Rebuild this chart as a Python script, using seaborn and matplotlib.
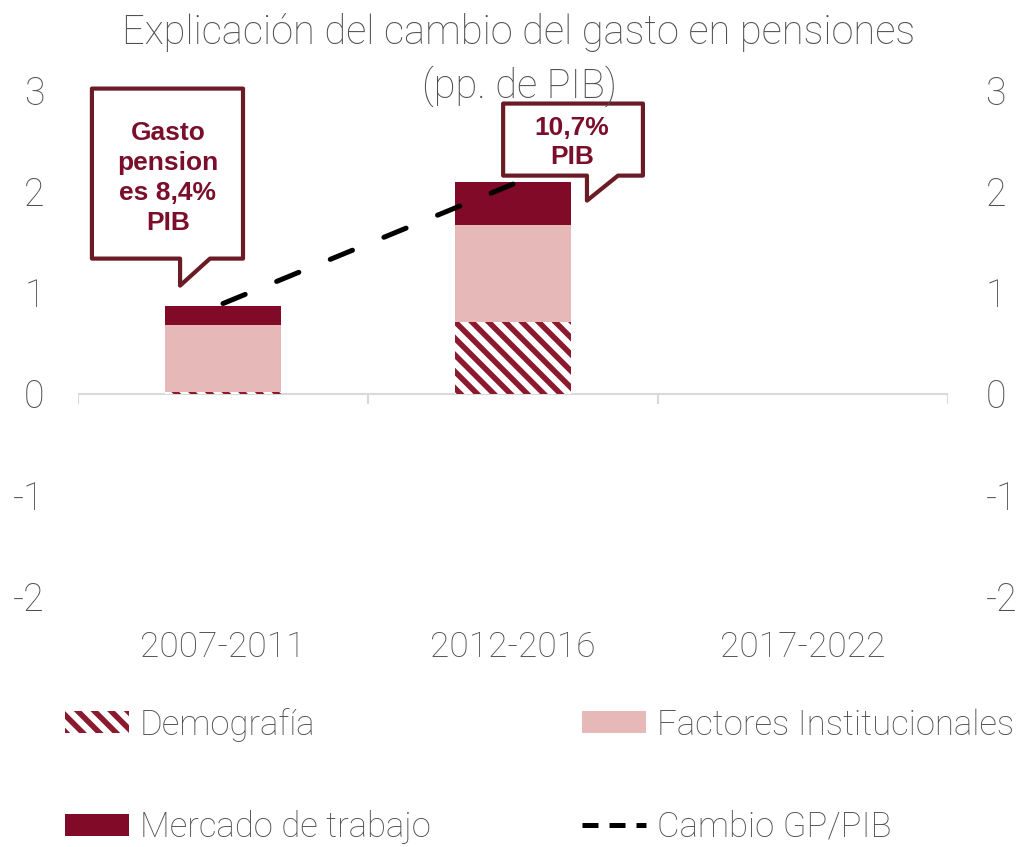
import numpy as np
import pandas as pd
import matplotlib.pyplot as plt
from matplotlib.patches import Patch, Polygon
from matplotlib.lines import Line2D
import seaborn as sns

# datos (pp. de PIB)
periodos = ['2007-2011', '2012-2016', '2017-2022']
demografia = [0.02, 0.71, 0.0]
institucionales = [0.66, 0.96, 0.0]
mercado = [0.19, 0.42, 0.0]
cambio = [0.89, 2.07]
yticks = [-2, -1, 0, 1, 2, 3]

c_demo = '#8B1A2E'
c_inst = '#E6B8B7'
c_merc = '#800A27'
c_borde = '#6B1B24'
c_texto_box = '#7B0F2B'
gris = '#505050'

sns.set_style('white')
plt.rcParams['font.family'] = ['Roboto', 'DejaVu Sans']
plt.rcParams['font.weight'] = 'light'
plt.rcParams['hatch.linewidth'] = 4
plt.rcParams['axes.unicode_minus'] = False

df = pd.DataFrame({'periodo': periodos, 'demo': demografia,
                   'inst': institucionales, 'merc': mercado})
df['base_merc'] = df['demo'] + df['inst']

fig = plt.figure(figsize=(10.23, 8.47), dpi=100)
ax = fig.add_axes([78 / 1023, 1 - 596 / 847, 870 / 1023, 506 / 847])

sns.barplot(data=df, x='periodo', y='demo', order=periodos, color='white',
            hatch='\\\\', edgecolor=c_demo, linewidth=0, width=0.4,
            saturation=1, ax=ax)
sns.barplot(data=df, x='periodo', y='inst', order=periodos, color=c_inst,
            bottom=df['demo'], linewidth=0, width=0.4, saturation=1, ax=ax)
sns.barplot(data=df, x='periodo', y='merc', order=periodos, color=c_merc,
            bottom=df['base_merc'], linewidth=0, width=0.4, saturation=1, ax=ax)

sns.lineplot(x=np.arange(len(cambio)), y=cambio, color='black', lw=3.6,
             linestyle=(0, (4.8, 6.8)), dash_capstyle='round', ax=ax, zorder=4)

# eje en cero con marcas entre categorias
ax.axhline(0, color='#D9D9D9', lw=1.5, zorder=0)
bordes = np.arange(len(periodos) + 1) - 0.5
ax.vlines(bordes, -0.1, 0, color='#D9D9D9', lw=1.5, zorder=0)

ax.set_xlim(-0.5, len(periodos) - 0.5)
ax.set_ylim(-2, 3)
ax.set_yticks(yticks)
ax.set_xlabel('')
ax.set_ylabel('')
ax.tick_params(axis='y', length=0, labelsize=27, labelcolor=gris, pad=24)
ax.tick_params(axis='x', length=0, labelsize=25.5, labelcolor=gris, pad=25)
sns.despine(ax=ax, left=True, bottom=True)

ax2 = ax.twinx()
ax2.set_ylim(-2, 3)
ax2.set_yticks(yticks)
ax2.tick_params(axis='y', length=0, labelsize=27, labelcolor=gris, pad=27)
sns.despine(ax=ax2, left=True, bottom=True, right=True)

# titulo
fig.text(519 / 1023, 1 - 33 / 847, 'Explicación del cambio del gasto en pensiones',
         ha='center', va='center', fontsize=28.7, color=gris)
fig.text(519 / 1023, 1 - 86 / 847, '(pp. de PIB)',
         ha='center', va='center', fontsize=28.7, color=gris)


# globos de texto
def globo(izq, der, arriba, abajo, cola0, cola1, punta, texto, tx, ty):
    pts = [(izq, arriba), (der, arriba), (der, abajo), (cola1, abajo),
           (cola0, punta), (cola0, abajo), (izq, abajo)]
    p = Polygon(pts, closed=True, facecolor='white', edgecolor=c_borde,
                lw=3, joinstyle='round', clip_on=False, zorder=6)
    ax.add_patch(p)
    ax.text(tx, ty, texto, ha='center', va='center', fontsize=19,
            fontweight='bold', family='Liberation Sans', color=c_texto_box,
            linespacing=1.3, zorder=7, clip_on=False)


globo(-0.452, 0.069, 3.014, 1.334, -0.148, -0.045, 1.067,
      'Gasto\npension\nes 8,4%\nPIB', -0.19, 2.13)
globo(0.966, 1.448, 2.866, 2.154, 1.255, 1.362, 1.907,
      '10,7%\nPIB', 1.203, 2.48)

# leyenda en dos columnas
h_demo = Patch(facecolor='white', edgecolor=c_demo, hatch='\\\\', lw=0)
h_merc = Patch(facecolor=c_merc, lw=0)
h_inst = Patch(facecolor=c_inst, lw=0)
h_camb = Line2D([], [], color='black', lw=3.6, linestyle=(0, (3.2, 2.2)))

ley = dict(loc='center left', frameon=False, fontsize=25, handlelength=1.85,
           handleheight=0.6, handletextpad=0.3, labelspacing=1.98,
           borderpad=0, borderaxespad=0, labelcolor=gris)
fig.legend([h_demo, h_merc], ['Demografía', 'Mercado de trabajo'],
           bbox_to_anchor=(65 / 1023, 1 - 776 / 847), **ley)
fig.legend([h_inst, h_camb], ['Factores Institucionales', 'Cambio GP/PIB'],
           bbox_to_anchor=(582 / 1023, 1 - 776 / 847), **ley)

fig.savefig('out.png', dpi=100)
